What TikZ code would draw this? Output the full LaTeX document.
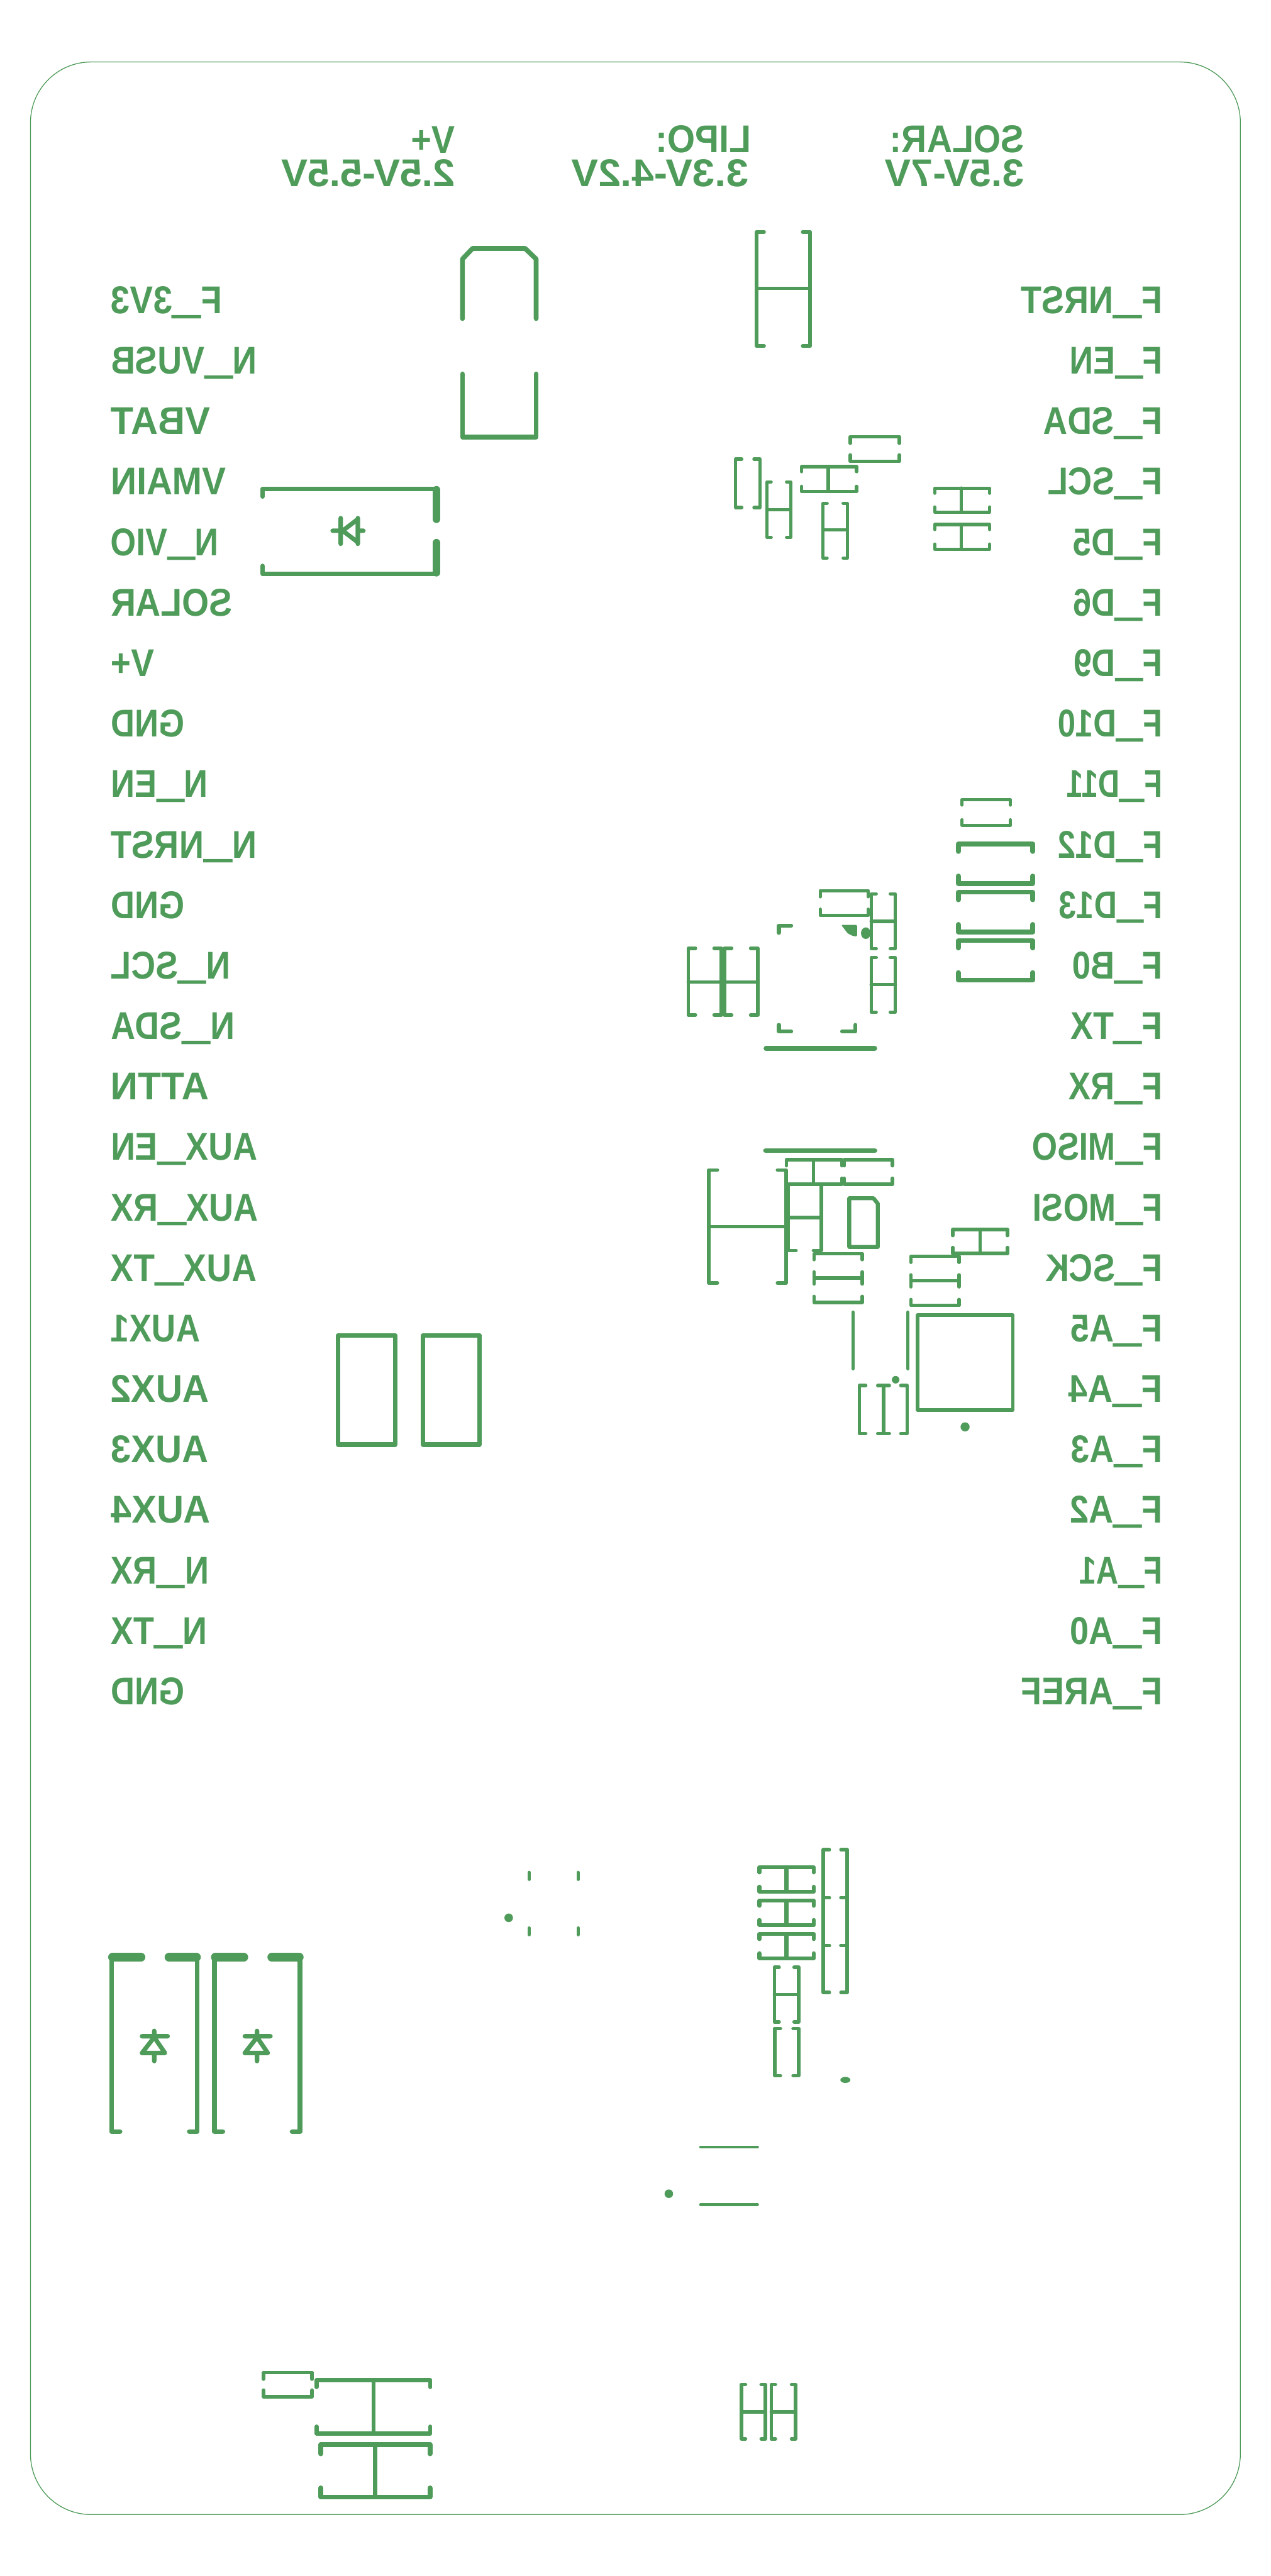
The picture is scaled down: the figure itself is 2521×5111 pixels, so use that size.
\documentclass[tikz,border=0pt]{standalone}
\usepackage{fontspec}
\usepackage{graphicx}
\setmainfont{Liberation Sans}
\definecolor{silk}{HTML}{4F9B5A}
\newcommand\usc{\raisebox{0.15em}{\scalebox{1.5}[2.3]{\_}}}
\newcommand\silklabel[5]{\pgfmathsetlengthmacro\silkw{(#3-#2+3)*0.5pt}%
  \node[silktext] (#1) at (#2-1,#4) {\reflectbox{\resizebox{\silkw}{\height}{#5}}};}
\newcommand\silklabelf[5]{\pgfmathsetlengthmacro\silkw{(#3-#2+8)*0.5pt}%
  \node[silktext] (#1) at (#2-1,#4) {\reflectbox{\resizebox{\silkw}{\height}{#5}}};}
\newcommand\vbk[6]{\draw[silkline,line width=#6*0.55pt] ({#1+#5},#2)--(#1,#2)--(#1,#4)--({#1+#5},#4) ({#3-#5},#2)--(#3,#2)--(#3,#4)--({#3-#5},#4);}
\newcommand\hbk[6]{\draw[silkline,line width=#6*0.55pt] (#1,{#2+#5})--(#1,#2)--(#3,#2)--(#3,{#2+#5}) (#1,{#4-#5})--(#1,#4)--(#3,#4)--(#3,{#4-#5});}
\tikzset{
  silkline/.style={draw=silk,line cap=round,line join=round},
  silktext/.style={anchor=base west,inner sep=0pt,outer sep=0pt,text=silk,font=\fontsize{38.4}{40}\selectfont\bfseries},
  silkdot/.style={fill=silk,draw=none}
}
\begin{document}
\begin{tikzpicture}[x=0.5pt,y=-0.5pt]
\useasboundingbox (0,0) rectangle (2521,5111);
\fill[white] (0,0) rectangle (2521,5111);
% board outline
\draw[draw=silk,line width=0.8pt,rounded corners=60pt] (60.5,123) rectangle (2461,4989);
% top labels
\silklabel{tvp}{817}{901}{303.5}{V+}
\silklabel{tvr}{559}{901}{370}{2.5V-5.5V}
\silklabelf{tlp}{1302}{1483}{303}{LIPO:}
\silklabel{tlr}{1135}{1483}{370}{3.3V-4.2V}
\silklabel{tsp}{1767}{2030}{303}{SOLAR:}
\silklabel{tsr}{1757}{2030}{370}{3.5V-7V}
% left column
\silklabelf{l0}{221}{434}{622}{F\usc 3V3}
\silklabelf{l1}{221}{503}{742}{N\usc VUSB}
\silklabel{l2}{221}{415}{862}{VBAT}
\silklabel{l3}{221}{447}{982}{VMAIN}
\silklabelf{l4}{221}{427}{1102}{N\usc VIO}
\silklabel{l5}{221}{459}{1222}{SOLAR}
\silklabel{l6}{221}{304}{1342}{V+}
\silklabel{l7}{221}{364}{1462}{GND}
\silklabelf{l8}{221}{406}{1582}{N\usc EN}
\silklabelf{l9}{221}{503}{1702}{N\usc NRST}
\silklabel{l10}{221}{364}{1822}{GND}
\silklabelf{l11}{221}{450}{1942}{N\usc SCL}
\silklabelf{l12}{221}{459}{2062}{N\usc SDA}
\silklabel{l13}{221}{413}{2182}{ATTN}
\silklabel{l14}{221}{508.5}{2302}{AUX\usc EN}
\silklabel{l15}{221}{510.5}{2422}{AUX\usc RX}
\silklabel{l16}{221}{507.5}{2542}{AUX\usc TX}
\silklabel{l17}{221}{395}{2662}{AUX1}
\silklabel{l18}{221}{413}{2782}{AUX2}
\silklabel{l19}{221}{411.5}{2902}{AUX3}
\silklabel{l20}{221}{416}{3022}{AUX4}
\silklabelf{l21}{221}{407.5}{3142}{N\usc RX}
\silklabelf{l22}{221}{404.5}{3262}{N\usc TX}
\silklabel{l23}{221}{364}{3382}{GND}
% right column
\silklabelf{r0}{2026}{2300}{622}{F\usc NRST}
\silklabelf{r1}{2123.7}{2300}{742}{F\usc EN}
\silklabelf{r2}{2071}{2300}{862}{F\usc SDA}
\silklabelf{r3}{2080}{2300}{982}{F\usc SCL}
\silklabelf{r4}{2130}{2300}{1102}{F\usc D5}
\silklabelf{r5}{2130}{2300}{1222}{F\usc D6}
\silklabelf{r6}{2131}{2300}{1342}{F\usc D9}
\silklabelf{r7}{2099.7}{2300}{1462}{F\usc D10}
\silklabelf{r8}{2117.7}{2300}{1582}{F\usc D11}
\silklabelf{r9}{2100}{2300}{1702}{F\usc D12}
\silklabelf{r10}{2102}{2300}{1822}{F\usc D13}
\silklabelf{r11}{2128}{2300}{1942}{F\usc B0}
\silklabelf{r12}{2125}{2300}{2062}{F\usc TX}
\silklabelf{r13}{2122}{2300}{2182}{F\usc RX}
\silklabelf{r14}{2049}{2300}{2302}{F\usc MISO}
\silklabelf{r15}{2049.7}{2300}{2422}{F\usc MOSI}
\silklabelf{r16}{2075}{2300}{2542}{F\usc SCK}
\silklabelf{r17}{2125}{2300}{2662}{F\usc A5}
\silklabelf{r18}{2121}{2300}{2782}{F\usc A4}
\silklabelf{r19}{2126}{2300}{2902}{F\usc A3}
\silklabelf{r20}{2124}{2300}{3022}{F\usc A2}
\silklabelf{r21}{2142}{2300}{3142}{F\usc A1}
\silklabelf{r22}{2124}{2300}{3262}{F\usc A0}
\silklabelf{r23}{2027}{2300}{3382}{F\usc AREF}
% USB style connector
\draw[silkline,line width=4.8pt] (917.6,632)--(917.6,514)--(937.5,493)--(1042,493)--(1063.8,514)--(1063.8,632);
\draw[silkline,line width=4.8pt] (917.6,742)--(917.6,867)--(1063.8,867)--(1063.8,742);
% upper diode
\draw[silkline,line width=4.6pt] (521,985)--(521,970)--(866,970);
\draw[silkline,line width=4.6pt] (521,1123)--(521,1138.6)--(866,1138.6);
\draw[silkline,line width=7.8pt] (866,972)--(866,1030);
\draw[silkline,line width=7.8pt] (866,1077)--(866,1136);
\draw[silkline,line width=4.4pt] (660,1053)--(676,1053) (676,1028)--(676,1079) (680,1053)--(710,1030)--(710,1076)--cycle (710,1028)--(710,1079) (710,1053)--(721,1053);
% rectangles
\draw[silkline,line width=4.6pt] (671,2649.5) rectangle (784,2866);
\draw[silkline,line width=4.6pt] (839.5,2649.5) rectangle (951.5,2866);
% top power components
\vbk{1501}{460}{1607.6}{686.6}{15}{6.5}
\draw[silkline,line width=3.6pt] (1501,572)--(1607.6,572);
\vbk{1459.7}{911}{1508}{1007}{12}{6}
\vbk{1522}{956}{1568.7}{1066}{8}{6}
\draw[silkline,line width=3.4pt] (1522,1011)--(1568.7,1011);
\hbk{1590.5}{925.8}{1699.5}{975}{10}{6}
\draw[silkline,line width=3.4pt] (1643.5,925.8)--(1643.5,975);
\vbk{1633}{998.5}{1681}{1107.5}{8}{6}
\draw[silkline,line width=3.4pt] (1633,1051)--(1681,1051);
\hbk{1687}{866.5}{1784.4}{915.5}{13}{6}
\hbk{1854.5}{968.5}{1963.5}{1016}{10}{6}
\draw[silkline,line width=3.4pt] (1907.5,968.5)--(1907.5,1016);
\hbk{1854.5}{1040.6}{1963.5}{1089.6}{10}{6}
\draw[silkline,line width=3.4pt] (1907.5,1040.6)--(1907.5,1089.6);
% right stack
\hbk{1909}{1586.4}{2005}{1637.4}{11}{5.5}
\hbk{1901.4}{1674.5}{2049}{1753}{15}{8.5}
\hbk{1901.4}{1770.3}{2049}{1849}{15}{8.5}
\hbk{1901.4}{1866}{2049}{1944.6}{15}{8.5}
% left H pair
\vbk{1365.7}{1881.4}{1431}{2013.6}{14}{6.5}
\draw[silkline,line width=3.6pt] (1365.7,1948.5)--(1431,1948.5);
\vbk{1437.6}{1881.4}{1503.5}{2013.6}{14}{6.5}
\draw[silkline,line width=3.6pt] (1437.6,1948.5)--(1503.5,1948.5);
% chip corners
\draw[silkline,line width=3.9pt] (1545.3,1850.8)--(1545.3,1836.6)--(1569.8,1836.6);
\draw[silkline,line width=3.9pt] (1545.3,2033.5)--(1545.3,2046.5)--(1569.8,2046.5);
\draw[silkline,line width=3.9pt] (1697.3,2033.5)--(1697.3,2046.5)--(1670.8,2046.5);
\fill[silk,rounded corners=1pt] (1669,1835)--(1700.5,1835)--(1700.5,1858)--(1692,1857)--(1682,1852)--cycle;
\fill[silkdot] (1717.8,1851.5) ellipse [x radius=9.5,y radius=11.5];
\draw[silkline,line width=4.8pt] (1519.8,2080)--(1735.6,2080);
\hbk{1627.4}{1767.2}{1722.9}{1816}{12}{6}
\vbk{1728.5}{1773.4}{1776.4}{1882}{10}{6}
\draw[silkline,line width=3.4pt] (1728.5,1827.8)--(1776.4,1827.8);
\vbk{1728.5}{1899.8}{1776.4}{2008.6}{10}{6}
\draw[silkline,line width=3.4pt] (1728.5,1953.5)--(1776.4,1953.5);
% lower chip group
\draw[silkline,line width=4.8pt] (1519,2283)--(1735.7,2283);
\hbk{1560.5}{2301}{1670.5}{2349.6}{12}{6}
\draw[silkline,line width=3.4pt] (1614.3,2301)--(1614.3,2349.6);
\hbk{1675}{2301}{1770.5}{2349.6}{12}{6}
\vbk{1406.3}{2321.4}{1559.6}{2545.4}{17}{6.5}
\draw[silkline,line width=3.6pt] (1406.3,2433.8)--(1559.6,2433.8);
\vbk{1563.5}{2349.6}{1629.7}{2481}{16}{6}
\draw[silkline,line width=3.4pt] (1563.5,2415.6)--(1629.7,2415.6);
\draw[silkline,line width=4pt] (1685,2377.4)--(1733,2377.4)--(1741.6,2388)--(1741.6,2474)--(1685,2474)--cycle;
\hbk{1615.3}{2487.3}{1710.8}{2535.5}{12}{6}
\hbk{1615.3}{2535.5}{1710.8}{2584}{12}{6}
\hbk{1807.3}{2492.7}{1902.8}{2541.3}{12}{6}
\hbk{1807.3}{2541.3}{1902.8}{2590.2}{12}{6}
\hbk{1890.4}{2439.6}{1998.9}{2487}{12}{6}
\draw[silkline,line width=3.4pt] (1944.6,2439.6)--(1944.6,2487);
\draw[silkline,line width=3.4pt] (1692.4,2603.5)--(1692.4,2715.6);
\draw[silkline,line width=3.4pt] (1801.3,2603.5)--(1801.3,2715.6);
\draw[silkline,line width=3.4pt] (1820.7,2609) rectangle (2009.3,2797.7);
\fill[silkdot] (1777,2737.5) circle [radius=7.5];
\fill[silkdot] (1914.8,2831) circle [radius=9];
\vbk{1704.8}{2749}{1800.3}{2844}{13}{6}
\draw[silkline,line width=3.4pt] (1741.6,2749)--(1764.5,2749) (1753,2749)--(1753,2844) (1741.6,2844)--(1764.5,2844);
% lower centre stack
\hbk{1506.7}{3705}{1614.7}{3753.3}{10}{7}
\draw[silkline,line width=3.9pt] (1560.3,3705)--(1560.3,3753.3);
\hbk{1506.7}{3771.3}{1614.7}{3819.3}{10}{7}
\draw[silkline,line width=3.9pt] (1560.3,3771.3)--(1560.3,3819.3);
\hbk{1506.7}{3837.3}{1614.7}{3885.3}{10}{7}
\draw[silkline,line width=3.9pt] (1560.3,3837.3)--(1560.3,3885.3);
\vbk{1536.7}{3903.3}{1584.7}{4011.7}{9}{6.5}
\draw[silkline,line width=3.6pt] (1536.7,3957.3)--(1584.7,3957.3);
\vbk{1537.3}{4024.7}{1584.7}{4118.3}{11}{6.5}
\vbk{1633.3}{3670}{1680.7}{3765.3}{12}{6.5}
\vbk{1633.3}{3765.3}{1680.7}{3860}{12}{6.5}
\vbk{1633.3}{3860}{1680.7}{3953.3}{12}{6.5}
\fill[silkdot] (1677.3,4126.7) ellipse [x radius=10,y radius=6];
% small ticks and dots
\draw[silkline,line width=3pt] (1049.9,3714.8)--(1049.9,3729) (1147.1,3714.8)--(1147.1,3729) (1049.9,3825)--(1049.9,3838.8) (1147.1,3825)--(1147.1,3838.8);
\fill[silkdot] (1009.3,3805) circle [radius=8.5];
\fill[silkdot] (1327,4352.5) circle [radius=8.5];
\draw[silkline,line width=2.8pt] (1390,4259.7)--(1503,4259.7) (1390,4374)--(1503,4374);
% lower diodes
\foreach \dx in {0,204}{
  \draw[silkline,line width=4.8pt] (238+\dx,4229.3)--(221.3+\dx,4229.3)--(221.3+\dx,3883.3);
  \draw[silkline,line width=4.8pt] (375.7+\dx,4229.3)--(391.3+\dx,4229.3)--(391.3+\dx,3883.3);
  \draw[silkline,line width=8.4pt] (223+\dx,3883.3)--(280+\dx,3883.3) (335+\dx,3883.3)--(390+\dx,3883.3);
  \draw[silkline,line width=4.4pt] (306+\dx,4029.3)--(306+\dx,4040) (281.7+\dx,4040)--(332.7+\dx,4040) (306+\dx,4042)--(281.7+\dx,4073.3)--(327.3+\dx,4073.3)--cycle (306+\dx,4073.3)--(306+\dx,4089.3);
}
% bottom components
\hbk{522.9}{4707.3}{619.2}{4755.3}{13}{6.5}
\hbk{628.2}{4722.3}{854}{4828.3}{14}{7}
\draw[silkline,line width=3.4pt] (741,4722.3)--(741,4828.3);
\hbk{636.5}{4850.3}{853}{4954.3}{18}{9}
\draw[silkline,line width=4.4pt] (744,4850.3)--(744,4954.3);
\vbk{1471}{4731}{1518.4}{4839}{8}{6.5}
\draw[silkline,line width=3.6pt] (1471,4785.3)--(1518.4,4785.3);
\vbk{1530.4}{4731}{1578.6}{4839}{8}{6.5}
\draw[silkline,line width=3.6pt] (1530.4,4785.3)--(1578.6,4785.3);
\end{tikzpicture}
\end{document}
